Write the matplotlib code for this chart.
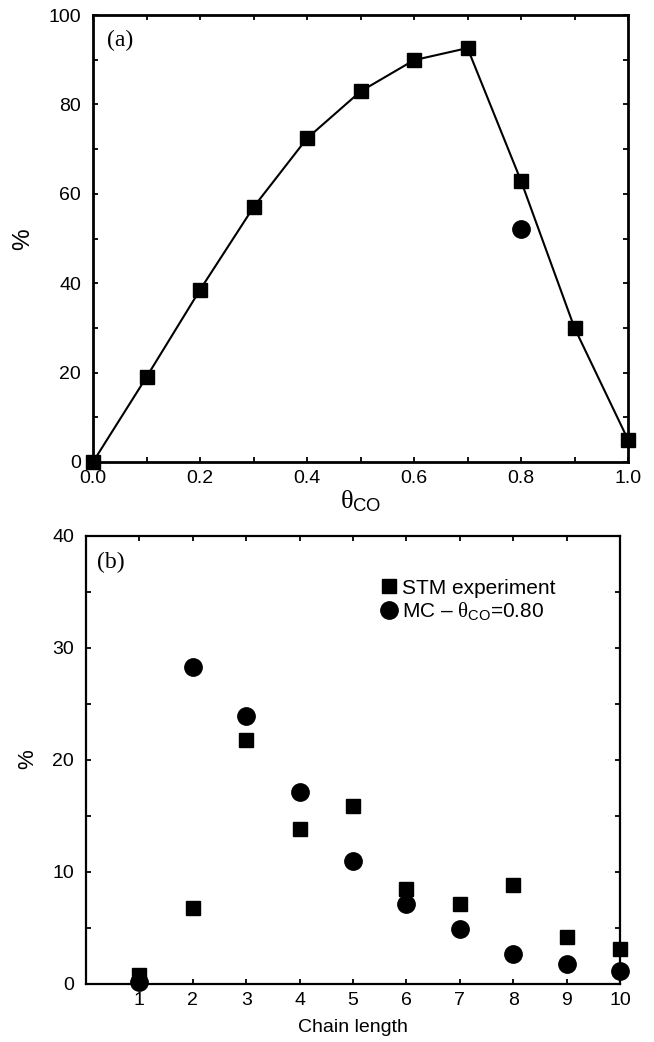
import matplotlib
matplotlib.use("Agg")
import matplotlib.pyplot as plt
from matplotlib.ticker import MultipleLocator, FixedLocator, FormatStrFormatter

plt.rcParams['font.family'] = ['Liberation Sans', 'DejaVu Sans']
plt.rcParams['mathtext.fontset'] = 'custom'
plt.rcParams['mathtext.rm'] = 'Liberation Sans'
plt.rcParams['mathtext.it'] = 'Liberation Serif'
plt.rcParams['mathtext.bf'] = 'Liberation Sans:bold'

# Panel (a)
theta = [0.0, 0.1, 0.2, 0.3, 0.4, 0.5, 0.6, 0.7, 0.8, 0.9, 1.0]
pct_a = [0.0, 19.0, 38.5, 57.0, 72.4, 82.9, 89.9, 92.6, 62.9, 30.0, 5.0]
mc_theta = [0.8]
mc_pct = [52.1]

# Panel (b)
chain = [1, 2, 3, 4, 5, 6, 7, 8, 9, 10]
stm = [0.8, 6.8, 21.8, 13.8, 15.9, 8.5, 7.1, 8.8, 4.2, 3.1]
mc = [0.2, 28.3, 23.9, 17.1, 11.0, 7.1, 4.9, 2.7, 1.8, 1.2]

W, H = 654, 1042
fig = plt.figure(figsize=(W/100, H/100), dpi=100)

def rect(l, t, r, b):
    return [l/W, 1 - b/H, (r-l)/W, (b-t)/H]

ax1 = fig.add_axes(rect(93, 15, 628, 462))
ax2 = fig.add_axes(rect(86, 536, 620, 984))

ax1.plot(theta, pct_a, '-s', color='black', lw=1.5, ms=10.5, clip_on=False, zorder=3)
ax1.plot(mc_theta, mc_pct, 'o', color='black', ms=12.5, clip_on=False, zorder=3)
ax1.set_xlim(0, 1)
ax1.set_ylim(0, 100)
ax1.xaxis.set_major_locator(MultipleLocator(0.2))
ax1.xaxis.set_minor_locator(MultipleLocator(0.1))
ax1.yaxis.set_major_locator(MultipleLocator(20))
ax1.yaxis.set_minor_locator(MultipleLocator(10))
ax1.xaxis.set_major_formatter(FormatStrFormatter('%.1f'))
ax1.set_xlabel(r'$\theta_{\mathrm{CO}}$', fontsize=19, labelpad=1)
ax1.set_ylabel('%', fontsize=17.5, va='center')
ax1.yaxis.set_label_coords(-0.131, 0.499)
ax1.text(0.026, 0.942, '(a)', transform=ax1.transAxes, fontsize=17,
         family='Liberation Serif', va='center', ha='left')
for sp in ax1.spines.values():
    sp.set_linewidth(2.0)

ax2.plot(chain, stm, 's', color='black', ms=10.3, clip_on=False, zorder=3,
         label='STM experiment')
ax2.plot(chain, mc, 'o', color='black', ms=12.5, clip_on=False, zorder=3,
         label=r'MC – $\theta_{\mathrm{CO}}$=0.80')
ax2.set_xlim(0, 10)
ax2.set_ylim(0, 40)
ax2.xaxis.set_major_locator(FixedLocator(chain))
ax2.yaxis.set_major_locator(MultipleLocator(10))
ax2.yaxis.set_minor_locator(MultipleLocator(5))
ax2.set_xlabel('Chain length', fontsize=14, labelpad=7)
ax2.set_ylabel('%', fontsize=16, va='center')
ax2.yaxis.set_label_coords(-0.110, 0.502)
ax2.text(0.02, 0.942, '(b)', transform=ax2.transAxes, fontsize=17,
         family='Liberation Serif', va='center', ha='left')
for sp in ax2.spines.values():
    sp.set_linewidth(1.6)
leg = ax2.legend(loc='upper left', bbox_to_anchor=(0.556, 0.905), frameon=False,
                 fontsize=15, handlelength=0.6, handletextpad=0.31,
                 borderpad=0, borderaxespad=0, labelspacing=0.12, markerscale=1.0)

for ax in (ax1, ax2):
    ax.tick_params(which='both', direction='in', top=True, right=True,
                   labelsize=14, width=1.3, length=3.6)
    ax.tick_params(axis='x', which='both', pad=6)
    ax.tick_params(axis='y', which='both', pad=8.5)

fig.savefig('out.png', dpi=100)
